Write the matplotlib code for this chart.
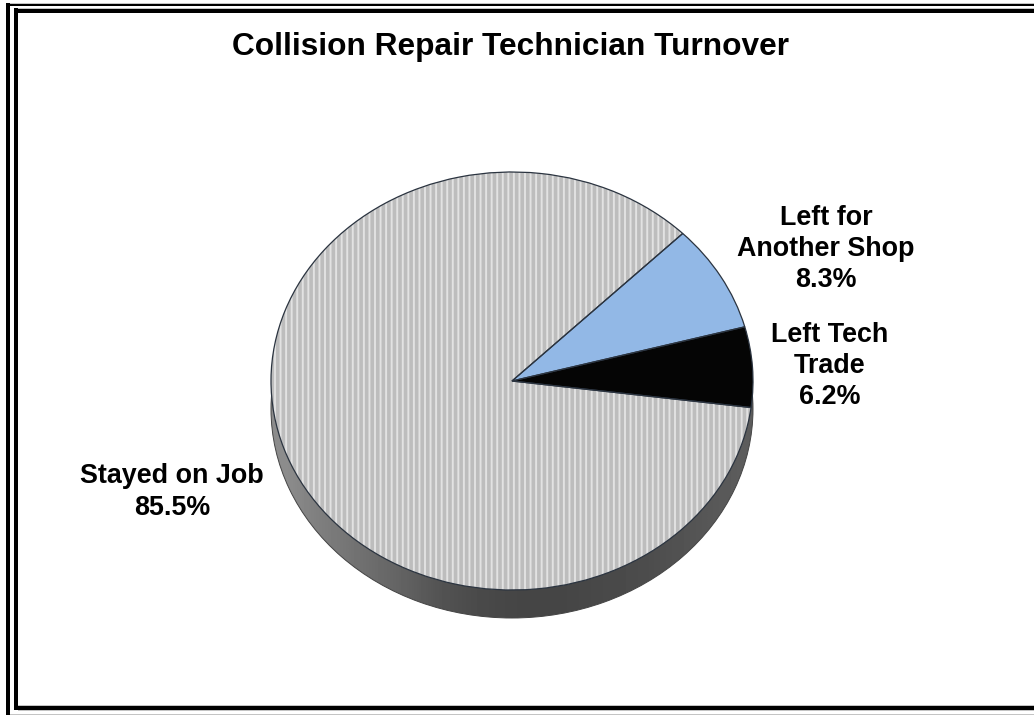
import matplotlib
matplotlib.use("Agg")
import matplotlib.pyplot as plt
import numpy as np
from matplotlib.patches import Rectangle
from matplotlib.path import Path

W, H = 1034, 715

values = [6.2, 8.3, 85.5]
top_colors = ["#050505", "#92b8e6", "#bdbdbd"]
# tons da lateral, da esquerda para a direita
side_shades = [0.55, 0.50, 0.46, 0.42, 0.38, 0.33, 0.30, 0.28, 0.27, 0.27, 0.28, 0.29, 0.30, 0.32, 0.34, 0.36]

plt.rcParams["font.family"] = ["Liberation Sans", "DejaVu Sans"]
plt.rcParams["hatch.linewidth"] = 1.4

fig = plt.figure(figsize=(W / 100, H / 100), dpi=100, facecolor="white")

# eixo em pixels para marco e textos
bg = fig.add_axes([0, 0, 1, 1])
bg.set_xlim(0, W)
bg.set_ylim(H, 0)
bg.axis("off")


def barra(x0, y0, x1, y1, cor="black"):
    bg.add_patch(Rectangle((x0, y0), x1 - x0, y1 - y0, facecolor=cor, edgecolor="none"))


# marco duplo
barra(6, 2.7, W, 4, "#c4c4c4")
barra(6, 4, W, 5.5)
barra(6, 2.7, 10, H)
barra(14, 8, W, 9, "#c4c4c4")
barra(14, 9, W, 13)
barra(14, 8, 18, 710)
barra(18, 705, W, 706, "#c4c4c4")
barra(14, 706, W, 710)
barra(18, 710, W, 711, "#c4c4c4")
barra(10, 713.5, W, 715, "#c4c4c4")

bg.text(510.5, 46.5, "Collision Repair Technician Turnover", fontsize=22.8,
        fontweight="bold", ha="center", va="center")
estilo = dict(fontsize=19.4, fontweight="bold", ha="center", va="center", linespacing=1.27)
bg.text(826, 249, "Left for\nAnother Shop\n8.3%", **estilo)
bg.text(830, 366, "Left Tech\nTrade\n6.2%", **estilo)
bg.text(172, 492, "Stayed on Job\n85.5%", **estilo)

# elipse: centro (512, 381), rx 241, ry 209, profundidade 28
cx, cy, rx, ry, prof = 512, 381, 241, 209, 28
dy = prof / ry
ax = fig.add_axes([(cx - rx) / W, 1 - (cy + ry + prof) / H, 2 * rx / W, (2 * ry + prof) / H])
ax.patch.set_alpha(0)


def fatias(centro=(0, 0), **kw):
    return ax.pie(values, colors=top_colors, startangle=-7.3, center=centro,
                  radius=1, frame=False, **kw)[0]


# lateral: gradiente recortado pela elipse deslocada + retangulo
circulo = Path.unit_circle()
elipse = Path(circulo.vertices + [0, -dy], circulo.codes)
ret = Path([(-1, -0.12), (-1, -dy), (1, -dy), (1, -0.12), (-1, -0.12)], closed=True)
im = ax.imshow(np.array([side_shades]), cmap="gray", vmin=0, vmax=1, extent=(-1, 1, -1 - dy, 0),
               aspect="auto", interpolation="bilinear", zorder=0.5)
im.set_clip_path(Path.make_compound_path(elipse, ret), transform=ax.transData)

# contorno inferior da lateral
ax.pie([1], colors=["none"], center=(0, -dy), frame=False,
       wedgeprops={"linewidth": 0.7, "edgecolor": "#444444", "zorder": 0.6})

# topo
for wedge, cor in zip(fatias(wedgeprops={"linewidth": 0, "zorder": 2}), top_colors):
    if cor == "#bdbdbd":
        wedge.set_hatch("|||")
        wedge.set_edgecolor("#e2e2e2")
for wedge in fatias(wedgeprops={"linewidth": 0.9, "edgecolor": "#2b3440", "zorder": 3}):
    wedge.set_facecolor("none")

ax.set_aspect("auto")
ax.set_xlim(-1, 1)
ax.set_ylim(-1 - dy, 1)

fig.savefig("out.png", dpi=100, facecolor="white")
